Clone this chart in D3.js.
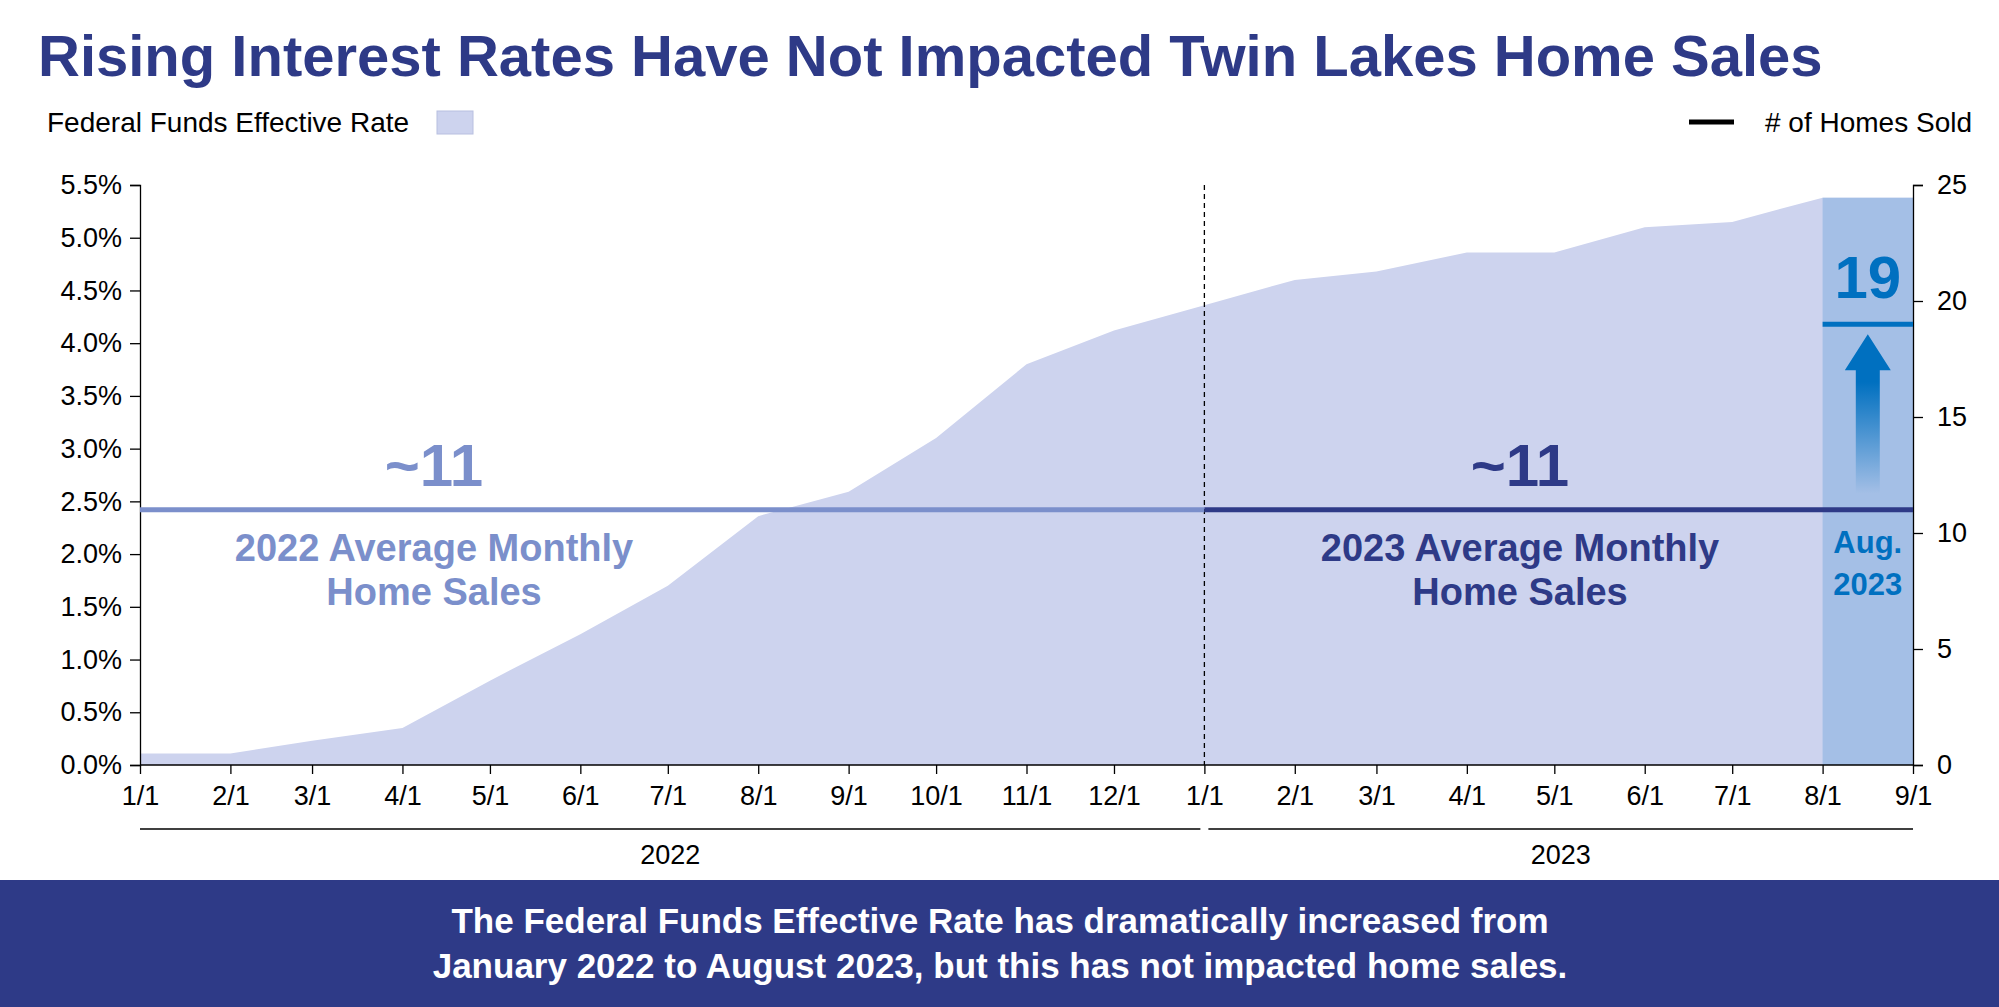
<!DOCTYPE html>
<html><head><meta charset="utf-8">
<script src="https://cdn.jsdelivr.net/npm/d3@7"></script>
<style>body{margin:0;background:#fff}svg{display:block;font-family:"Liberation Sans",Arial,sans-serif}</style>
</head><body>
<svg id="c" width="1999" height="1007"></svg>
<script>
// Federal funds effective rate, first of month, Jan 2022 .. Sep 2023
const months = ["2022-01-01","2022-02-01","2022-03-01","2022-04-01","2022-05-01","2022-06-01","2022-07-01","2022-08-01","2022-09-01","2022-10-01","2022-11-01","2022-12-01","2023-01-01","2023-02-01","2023-03-01","2023-04-01","2023-05-01","2023-06-01","2023-07-01","2023-08-01","2023-09-01"]
const rates = [0.11,0.11,0.23,0.35,0.80,1.24,1.70,2.36,2.59,3.10,3.80,4.12,4.36,4.60,4.68,4.86,4.86,5.10,5.15,5.38,5.38]
const avgSales = [{from:"2022-01-01", to:"2023-01-01", value:11, color:"#7B8FCB"}, {from:"2023-01-01", to:"2023-09-01", value:11, color:"#2E3A87"}]
const augSales = 19
const leftTicks = [0,0.5,1,1.5,2,2.5,3,3.5,4,4.5,5,5.5]
const rightTicks = [0,5,10,15,20,25]
const years = [{label:"2022", from:"2022-01-01", to:"2023-01-01"}, {label:"2023", from:"2023-01-01", to:"2023-09-01"}]

const svg = d3.select("#c")
const parse = d3.utcParse("%Y-%m-%d")
const data = months.map((m, i) => ({date: parse(m), rate: rates[i]}))
const x = d3.scaleUtc().domain([parse(months[0]), parse(months[months.length-1])]).range([140, 1913])
const yL = d3.scaleLinear().domain([0, 5.5]).range([765, 185])
const yR = d3.scaleLinear().domain([0, 25]).range([765, 185])
const navy = "#2E3A87", blue = "#0070C0"

// title
svg.append("text").attr("x", 38).attr("y", 76).attr("font-size", 58).attr("font-weight", "bold").attr("fill", navy)
	.text("Rising Interest Rates Have Not Impacted Twin Lakes Home Sales")

// legends
svg.append("text").attr("x", 47).attr("y", 132).attr("font-size", 28).text("Federal Funds Effective Rate")
svg.append("rect").attr("x", 437).attr("y", 111).attr("width", 36).attr("height", 23).attr("fill", "#CDD3EE").attr("stroke", "#b8bfe0")
svg.append("line").attr("x1", 1689).attr("x2", 1734).attr("y1", 122).attr("y2", 122).attr("stroke", "#000").attr("stroke-width", 5)
svg.append("text").attr("x", 1972).attr("y", 132).attr("font-size", 28).attr("text-anchor", "end").text("# of Homes Sold")

// area
const area = d3.area().x(d => x(d.date)).y0(yL(0)).y1(d => yL(d.rate))
svg.append("path").datum(data).attr("d", area).attr("fill", "#CDD3EE")
svg.append("path").datum(data.slice(-2)).attr("d", area).attr("fill", "#A4BFE6")

// dashed divider
svg.append("line").attr("x1", x(parse("2023-01-01"))).attr("x2", x(parse("2023-01-01")))
	.attr("y1", 185).attr("y2", 765).attr("stroke", "#000").attr("stroke-width", 1.3).attr("stroke-dasharray", "5,4")

// axes
const gL = svg.append("g").attr("transform", "translate(140,0)")
	.call(d3.axisLeft(yL).tickValues(leftTicks).tickFormat(d => d.toFixed(1) + "%").tickSize(10).tickPadding(8))
const gR = svg.append("g").attr("transform", "translate(1913,0)")
	.call(d3.axisRight(yR).tickValues(rightTicks).tickSize(10).tickPadding(14))
const gX = svg.append("g").attr("transform", "translate(0,765)")
	.call(d3.axisBottom(x).tickValues(data.map(d => d.date)).tickFormat(d3.utcFormat("%-m/%-d")).tickSize(9).tickPadding(12))
for (const g of [gL, gR, gX]) {
	g.selectAll("text").attr("font-size", 27).attr("fill", "#000").attr("font-family", '"Liberation Sans",Arial,sans-serif')
	g.selectAll("line,path").attr("stroke", "#000").attr("stroke-width", 1.3)
}
gX.select(".domain").attr("d", "M140,0H1913")

// year brackets
for (const yr of years) {
	const x1 = x(parse(yr.from)) + (yr.label == "2023" ? 4 : 0), x2 = x(parse(yr.to)) - (yr.label == "2022" ? 4 : 0)
	svg.append("line").attr("x1", x1).attr("x2", x2).attr("y1", 829).attr("y2", 829).attr("stroke", "#000").attr("stroke-width", 1.5)
	svg.append("text").attr("x", (x1 + x2) / 2).attr("y", 864).attr("text-anchor", "middle").attr("font-size", 27).text(yr.label)
}

// average lines
for (const a of avgSales) {
	svg.append("line").attr("x1", x(parse(a.from))).attr("x2", x(parse(a.to))).attr("y1", yR(a.value)).attr("y2", yR(a.value))
		.attr("stroke", a.color).attr("stroke-width", 5)
}
const aug1 = x(parse("2023-08-01")), sep1 = x(parse("2023-09-01")), augMid = (aug1 + sep1) / 2
svg.append("line").attr("x1", aug1).attr("x2", sep1).attr("y1", yR(augSales)).attr("y2", yR(augSales)).attr("stroke", blue).attr("stroke-width", 5)

// arrow
const defs = svg.append("defs")
const grad = defs.append("linearGradient").attr("id", "ag").attr("x1", 0).attr("x2", 0).attr("y1", 1).attr("y2", 0)
grad.append("stop").attr("offset", 0).attr("stop-color", blue).attr("stop-opacity", 0)
grad.append("stop").attr("offset", 0.7).attr("stop-color", blue).attr("stop-opacity", 1)
const aTop = yR(augSales) + 10, aBot = yR(11.7)
svg.append("path").attr("fill", "url(#ag)")
	.attr("d", `M${augMid},${aTop}L${augMid+23},${aTop+36}L${augMid+12},${aTop+36}L${augMid+12},${aBot}L${augMid-12},${aBot}L${augMid-12},${aTop+36}L${augMid-23},${aTop+36}Z`)

// annotations
function label(t, cx, y, size, color) {
	svg.append("text").attr("x", cx).attr("y", y).attr("text-anchor", "middle").attr("font-size", size)
		.attr("font-weight", "bold").attr("fill", color).text(t)
}
const c22 = 434, c23 = 1520
label("~11", c22, 486, 60, "#7B8FCB")
label("2022 Average Monthly", c22, 561, 38, "#7B8FCB")
label("Home Sales", c22, 605, 38, "#7B8FCB")
label("~11", c23, 486, 60, navy)
label("2023 Average Monthly", c23, 561, 38, navy)
label("Home Sales", c23, 605, 38, navy)
label("19", augMid, 298, 60, blue)
label("Aug.", augMid, 553, 31, blue)
label("2023", augMid, 595, 31, blue)

// bottom banner
svg.append("rect").attr("x", 0).attr("y", 880).attr("width", 1999).attr("height", 127).attr("fill", navy)
label("The Federal Funds Effective Rate has dramatically increased from", 1000, 933, 35, "#fff")
label("January 2022 to August 2023, but this has not impacted home sales.", 1000, 978, 35, "#fff")
</script>
</body></html>
